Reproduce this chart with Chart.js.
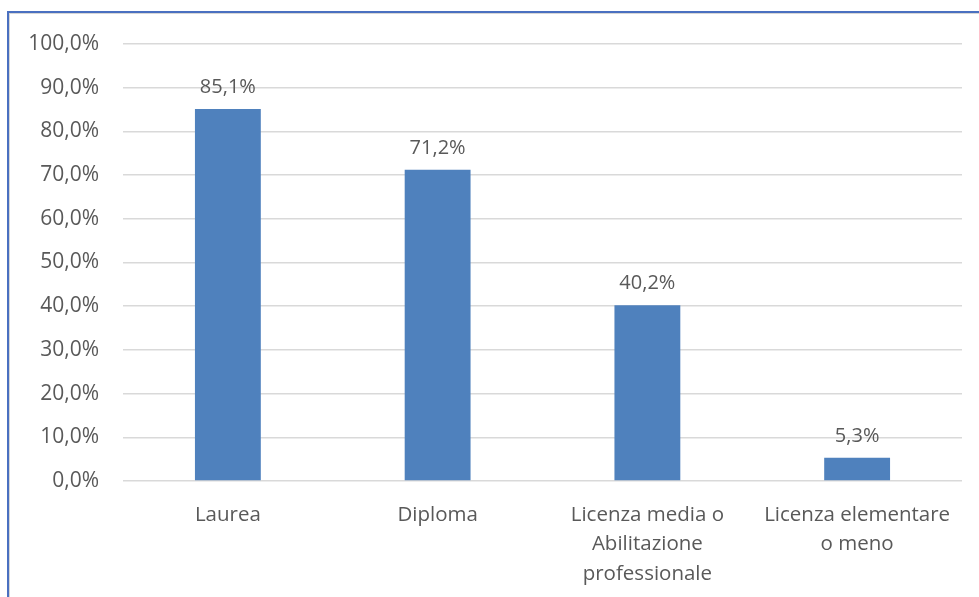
<!DOCTYPE html>
<html>
<head>
<meta charset="utf-8">
<script src="https://cdn.jsdelivr.net/npm/chart.js@4/dist/chart.umd.min.js"></script>
<style>
  html, body { margin: 0; padding: 0; background: #fff; }
  #wrap { position: relative; width: 979px; height: 597px; overflow: hidden; }
  #frame {
    position: absolute; left: 7px; top: 11px; width: 1000px; height: 1000px;
    border-top: 2px solid #4a70c0; border-left: 2px solid #4a70c0;
    box-shadow: 1px 1px 0 #d6d6d6 inset;
  }
  canvas { position: absolute; left: 0; top: 0; }
</style>
</head>
<body>
<div id="wrap">
  <div id="frame"></div>
  <canvas id="myChart" width="979" height="597"></canvas>
</div>
<script>
// titolo di studio -> percentuale
const categories = [
  'Laurea',
  'Diploma',
  ['Licenza media o', 'Abilitazione', 'professionale'],
  ['Licenza elementare', 'o meno']
];
const values = [85.1, 71.2, 40.2, 5.3];
const yTicks = [0, 10, 20, 30, 40, 50, 60, 70, 80, 90, 100];

const fmt = (v, d) => v.toFixed(d).replace('.', ',') + '%';
const textColor = '#595959';
const fontFamily = '"Open Sans", Lato, sans-serif';

// values written above each bar
const barLabels = {
  id: 'barLabels',
  afterDatasetsDraw(chart) {
    const ctx = chart.ctx;
    const meta = chart.getDatasetMeta(0);
    ctx.save();
    ctx.font = '20px ' + fontFamily;
    ctx.fillStyle = textColor;
    ctx.textAlign = 'center';
    ctx.textBaseline = 'middle';
    meta.data.forEach((bar, i) => {
      ctx.fillText(fmt(values[i], 1), bar.x, bar.y - 22);
    });
    ctx.restore();
  }
};

const ctx = document.getElementById('myChart').getContext('2d');

const config = {
  type: 'bar',
  data: {
    labels: categories,
    datasets: [{
      data: values,
      backgroundColor: '#4f81bd',
      barPercentage: 1,
      categoryPercentage: 0.314
    }]
  },
  options: {
    responsive: false,
    animation: false,
    layout: { padding: { left: 10, right: 17, top: 44, bottom: 0 } },
    plugins: { legend: { display: false }, tooltip: { enabled: false } },
    scales: {
      x: {
        grid: { display: false, drawTicks: false },
        border: { display: false },
        ticks: {
          color: textColor,
          font: { family: fontFamily, size: 20.5, lineHeight: 1.45 },
          padding: 19,
          maxRotation: 0,
          autoSkip: false
        },
        afterFit(scale) { scale.height = 116; }
      },
      y: {
        min: 0,
        max: 100,
        grid: { color: '#d9d9d9', lineWidth: 1.5, drawTicks: false },
        border: { display: false },
        afterBuildTicks(scale) { scale.ticks = yTicks.map(v => ({ value: v })); },
        ticks: {
          color: textColor,
          font: { family: fontFamily, size: 21 },
          padding: 24,
          callback: (v) => fmt(v, 1)
        },
        afterFit(scale) { scale.width = 113; }
      }
    }
  },
  plugins: [barLabels]
};

const myChart = new Chart(ctx, config);
</script>
</body>
</html>
